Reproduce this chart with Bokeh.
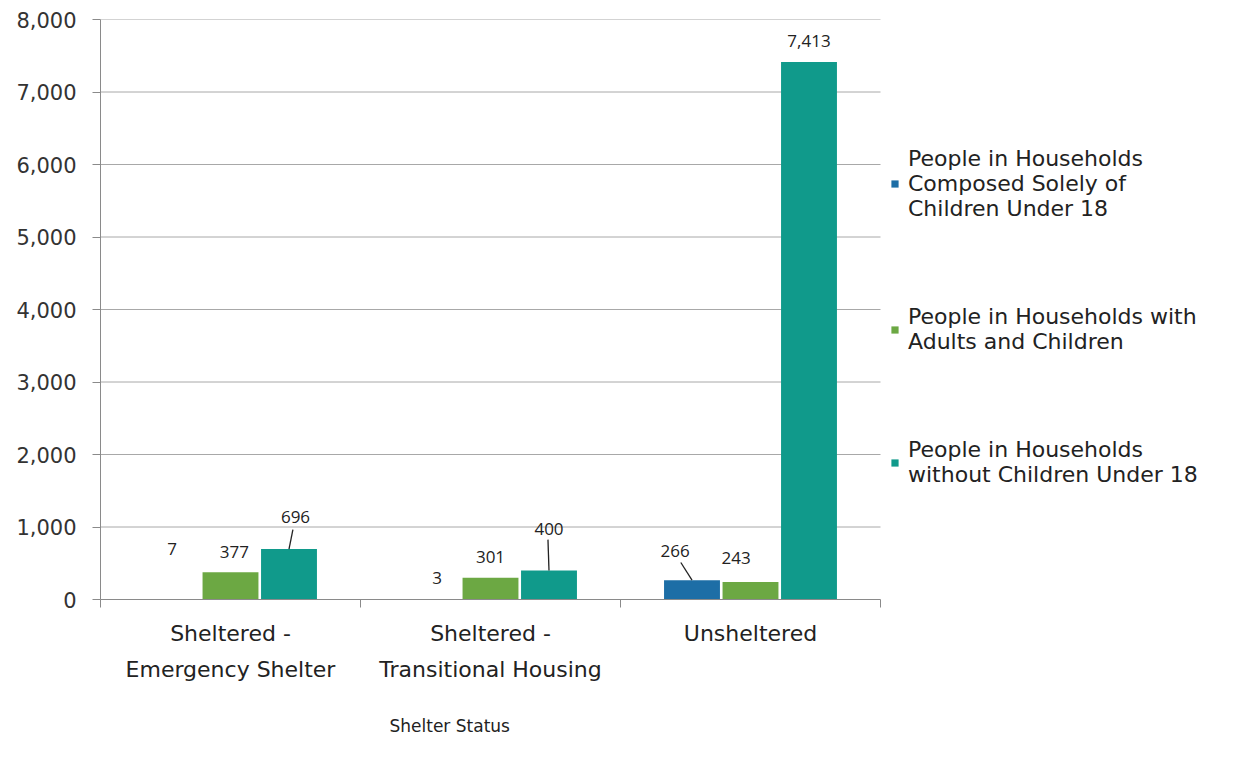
from bokeh.plotting import figure
from bokeh.models import (ColumnDataSource, Range1d, FixedTicker, NumeralTickFormatter,
                          LabelSet, Legend, LegendItem, Title)
from bokeh.core.properties import value
from bokeh.embed import file_html
from bokeh.resources import INLINE

# ---- data ----
categories = ["Sheltered -\nEmergency Shelter", "Sheltered -\nTransitional Housing", "Unsheltered"]
series_names = ["People in Households\nComposed Solely of\nChildren Under 18",
                "People in Households with\nAdults and Children",
                "People in Households\nwithout Children Under 18"]
only_children = [7, 3, 266]
adults_children = [377, 301, 243]
without_children = [696, 400, 7413]
y_ticks = [0, 1000, 2000, 3000, 4000, 5000, 6000, 7000, 8000]
x_title = "Shelter Status"

# ---- styles ----
colors = ["#1D6EA6", "#6CA843", "#109A8B"]
bar_w = 0.215
step = 0.225
FIG_W, FIG_H = 1250, 764
LEFT, TOP, BOTTOM = 100, 19, 164
PLOT_PX = 780  # width in px of the bar area (the legend sits to its right)
n_cat = len(categories)
x_end = n_cat * (FIG_W - LEFT) / PLOT_PX
# label offsets per series (rows) and category (cols): x in category units, y in value units
lab_dx = [[0.0, 0.02, -0.065], [0.015, 0.0, -0.055], [0.025, 0.0, 0.0]]
lab_dy = [[695, 300, 409], [284, 291, 335], [447, 578, 287]]
# leader lines keyed by (series, category): end offset (dx, dy)
lead = {(2, 0): (0.015, 268), (2, 1): (-0.004, 426), (0, 2): (-0.043, 244)}

p = figure(width=FIG_W, height=FIG_H, output_backend="svg", toolbar_location=None,
           x_range=Range1d(0, x_end), y_range=Range1d(0, y_ticks[-1]),
           min_border_left=LEFT, min_border_top=TOP, min_border_bottom=BOTTOM, min_border_right=0,
           background_fill_color="white", border_fill_color="white")
p.outline_line_color = None

# horizontal gridlines over the bar area only
p.segment(x0=[0] * (len(y_ticks) - 1), x1=[n_cat] * (len(y_ticks) - 1),
          y0=y_ticks[1:], y1=y_ticks[1:], line_color="#a8a8a8", line_width=1)

series = [only_children, adults_children, without_children]
renderers = []
lx, ly, ltxt = [], [], []
seg_x0, seg_y0, seg_x1, seg_y1 = [], [], [], []
for j, vals in enumerate(series):
    xs = [i + 0.5 + (j - 1) * step for i in range(n_cat)]
    src = ColumnDataSource(dict(x=xs, top=vals))
    r = p.vbar(x="x", top="top", width=bar_w, bottom=0, source=src,
               fill_color=colors[j], line_color=None)
    renderers.append(r)
    for i, v in enumerate(vals):
        lx.append(xs[i] + lab_dx[j][i])
        ly.append(v + lab_dy[j][i])
        ltxt.append(f"{v:,}")
        if (j, i) in lead:
            dx, dy = lead[(j, i)]
            seg_x0.append(xs[i]); seg_y0.append(v)
            seg_x1.append(xs[i] + dx); seg_y1.append(v + dy)

p.segment(x0=seg_x0, y0=seg_y0, x1=seg_x1, y1=seg_y1, line_color="#222222", line_width=1.3)

lab_src = ColumnDataSource(dict(x=lx, y=ly, t=ltxt))
p.add_layout(LabelSet(x="x", y="y", text="t", source=lab_src, text_align="center",
                      text_baseline="middle", text_font=value("Open Sans"),
                      text_font_size=value("17px"), text_color=value("#222222")))

# y axis
p.yaxis.ticker = FixedTicker(ticks=y_ticks)
p.yaxis.formatter = NumeralTickFormatter(format="0,0")
p.yaxis.major_label_text_font = "DejaVu Sans"
p.yaxis.major_label_text_font_size = "21px"
p.yaxis.major_label_text_color = "#333333"
p.yaxis.axis_line_color = "#8a8a8a"
p.yaxis.major_tick_line_color = "#8a8a8a"
p.yaxis.major_tick_out = 8
p.yaxis.major_tick_in = 0
p.yaxis.minor_tick_line_color = None
p.yaxis.major_label_standoff = 16

# x axis
centers = [i + 0.5 for i in range(n_cat)]
p.xaxis.bounds = (0, n_cat)
p.xaxis.ticker = FixedTicker(ticks=centers, minor_ticks=list(range(n_cat + 1)))
p.xaxis.major_label_overrides = {c: lab for c, lab in zip(centers, categories)}
p.xaxis.major_tick_line_color = None
p.xaxis.major_tick_out = 0
p.xaxis.minor_tick_line_color = "#8a8a8a"
p.xaxis.minor_tick_out = 8
p.xaxis.minor_tick_in = 0
p.xaxis.axis_line_color = "#8a8a8a"
p.xaxis.major_label_text_font = "DejaVu Sans"
p.xaxis.major_label_text_font_size = "22px"
p.xaxis.major_label_text_color = "#222222"
p.xaxis.major_label_text_line_height = 1.45
p.xaxis.major_label_standoff = 13

# x-axis title, placed under the bar area (as in the original)
p.add_layout(Title(text=x_title, align="left", offset=289, standoff=58,
                   text_font="DejaVu Sans", text_font_size="17px",
                   text_font_style="normal", text_color="#222222"), "below")

p.xgrid.grid_line_color = None
p.ygrid.grid_line_color = None

legend = Legend(items=[LegendItem(label=n, renderers=[r]) for n, r in zip(series_names, renderers)],
                location=(PLOT_PX + 10, 112), orientation="vertical",
                label_text_font="DejaVu Sans", label_text_font_size="22px",
                label_text_color="#222222",
                glyph_width=9, glyph_height=9, label_standoff=9, spacing=83,
                padding=0, margin=0, border_line_color=None, background_fill_alpha=0)
p.add_layout(legend, "center")

open("out.html", "w").write(file_html(p, INLINE))
